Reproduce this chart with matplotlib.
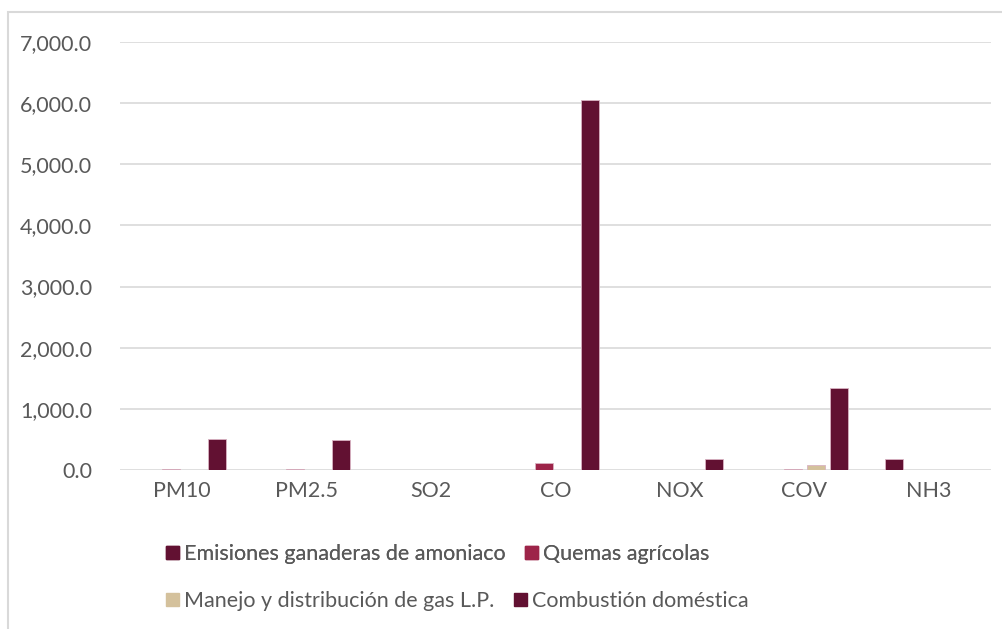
import matplotlib.pyplot as plt
from matplotlib.patches import Rectangle, Patch
from matplotlib.ticker import FuncFormatter
import numpy as np

plt.rcParams['font.family'] = ['Lato', 'DejaVu Sans']

contaminantes = ["PM10", "PM2.5", "SO2", "CO", "NOX", "COV", "NH3"]
series = [
    "Emisiones ganaderas de amoniaco",
    "Quemas agrícolas",
    "Manejo y distribución de gas L.P.",
    "Combustión doméstica",
]
ganaderas = [0, 0, 0, 0, 0, 0, 185]
quemas = [18, 16, 0, 120, 0, 12, 0]
gas_lp = [0, 0, 0, 0, 0, 85, 0]
combustion = [510, 495, 8, 6055, 178, 1335, 0]
valores = [ganaderas, quemas, gas_lp, combustion]
colores = ["#621132", "#9D2449", "#D4C19C", "#621132"]

fig = plt.figure(figsize=(10.03, 6.29), dpi=100)
ax = fig.add_axes([120 / 1003, 1 - 470 / 629, 871 / 1003, 428 / 629])

x = np.arange(len(contaminantes))
paso = 0.185
ancho = 0.145
for i, (vals, col) in enumerate(zip(valores, colores)):
    ax.bar(x + (i - 1.5) * paso, vals, width=ancho, color=col,
           edgecolor="#d9b3c2", linewidth=0.6, label=series[i], zorder=3)

ax.set_xlim(-0.5, len(contaminantes) - 0.5)
ax.set_ylim(0, 7000)
ax.set_yticks(range(0, 7001, 1000))
ax.yaxis.set_major_formatter(FuncFormatter(lambda v, p: f"{v:,.1f}"))
ax.set_xticks(x)
ax.set_xticklabels(contaminantes)
ax.grid(axis="y", color="#d9d9d9", linewidth=1.2, zorder=0)
for s in ax.spines.values():
    s.set_visible(False)
ax.tick_params(length=0, labelsize=15.5, labelcolor="#595959")
ax.tick_params(axis="y", pad=20)
ax.tick_params(axis="x", pad=8)

# recuadro del gráfico
fig.patches.append(Rectangle((8 / 1003, -0.1), 1.2, 1 - 12 / 629 + 0.1,
                             transform=fig.transFigure, fill=False,
                             edgecolor="#d9d9d9", linewidth=1.5))

h = [Patch(color=c) for c in colores]
kw = dict(frameon=False, fontsize=15.5, labelcolor="#595959", ncol=2,
          handlelength=0.6, handleheight=0.6, handletextpad=0.25,
          columnspacing=0.9, borderaxespad=0)
leg1 = fig.legend(h[:2], series[:2], loc="center left",
                  bbox_to_anchor=(157 / 1003, 1 - 554 / 629), **kw)
fig.add_artist(leg1)
leg2 = fig.legend(h[2:], series[2:], loc="center left",
                  bbox_to_anchor=(157 / 1003, 1 - 601 / 629), **kw)

fig.savefig("out.png", dpi=100)
